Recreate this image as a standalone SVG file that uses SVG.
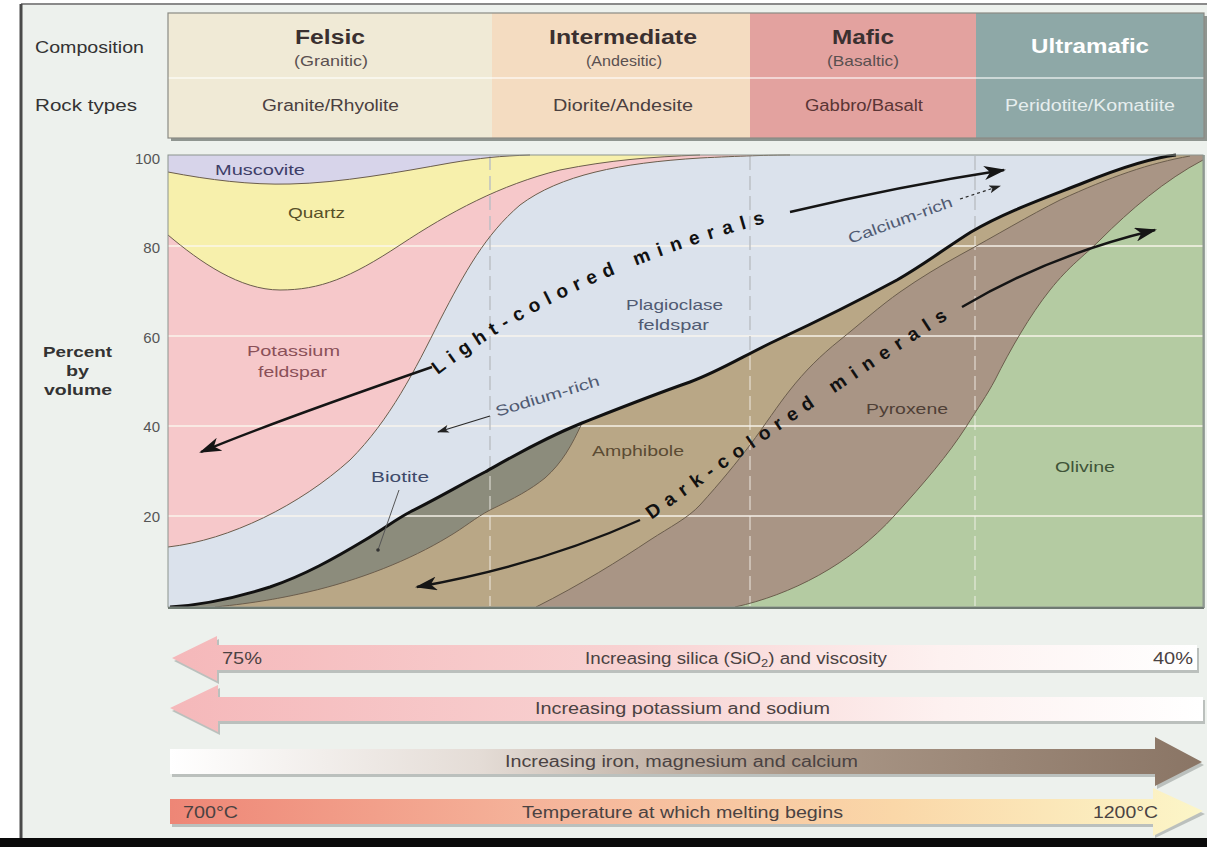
<svg xmlns="http://www.w3.org/2000/svg" width="1207" height="847" viewBox="0 0 1207 847">
<defs>
<style>
text{font-family:"Liberation Sans",Arial,sans-serif}
.hdr{font-size:20px;font-weight:bold;fill:#3a3030}
.sub{font-size:15px;fill:#5a5050}
.row{font-size:16px;fill:#4a4040}
.side{font-size:17px;fill:#333}
.ax{font-size:15px;fill:#555;text-anchor:end}
.lbl{font-size:15px}
.big{font-size:19px;font-weight:bold;fill:#111;letter-spacing:7.5px}
.bar{font-size:16px;fill:#4a4242}
.bnd{fill:none;stroke:#6b5d4c;stroke-width:1}
.arr{fill:none;stroke:#151515;stroke-width:2.4}
.sm{fill:none;stroke:#2a2a2a;stroke-width:1.2}
.grid{stroke:#fbf6ee;stroke-opacity:.7;stroke-width:2}
.vd{stroke:#f6f4ee;stroke-opacity:.55;stroke-width:1.6;stroke-dasharray:14 6}
.vg{stroke:#9ea4ae;stroke-opacity:.8;stroke-width:1.2;stroke-dasharray:14 6}
.shd{fill:#9aa09c;opacity:.6}
</style>
<marker id="ah" viewBox="0 0 22 14" refX="20" refY="7" markerWidth="22" markerHeight="14" markerUnits="userSpaceOnUse" orient="auto"><path d="M0,0 L22,7 L0,14 L6,7 Z" fill="#151515"/></marker>
<marker id="ahs" viewBox="0 0 12 8" refX="11" refY="4" markerWidth="12" markerHeight="8" markerUnits="userSpaceOnUse" orient="auto"><path d="M0,0 L12,4 L0,8 L3,4 Z" fill="#222"/></marker>
<linearGradient id="gPink" x1="0" y1="0" x2="1" y2="0"><stop offset="0" stop-color="#f5b8ba"/><stop offset="0.45" stop-color="#f8d2d2"/><stop offset="0.75" stop-color="#fdf1f0"/><stop offset="1" stop-color="#ffffff"/></linearGradient>
<linearGradient id="gIron" x1="0" y1="0" x2="1" y2="0"><stop offset="0" stop-color="#ffffff"/><stop offset="0.3" stop-color="#e4dcd6"/><stop offset="0.6" stop-color="#ab9888"/><stop offset="1" stop-color="#8a7565"/></linearGradient>
<linearGradient id="gTemp" x1="0" y1="0" x2="1" y2="0"><stop offset="0" stop-color="#ee8676"/><stop offset="0.35" stop-color="#f5b39a"/><stop offset="0.7" stop-color="#fad7a8"/><stop offset="1" stop-color="#fcf6c8"/></linearGradient>
<path id="lightPath" d="M438,375 Q565,275 785,218"/>
<path id="darkPath" d="M650,521 Q800,413 965,308"/>
<clipPath id="plagClip"><path d="M170,607 C205,605 235,598 270,587 C305,575 335,558 365,540 C385,528 395,520 410,512 C440,497 460,485 485,472 C510,458 540,440 582,423 C620,408 650,396 690,382 C720,371 745,355 777,340 C820,320 860,300 897,280 C925,264 950,245 971,232 C1005,212 1045,198 1083,183 C1120,168 1150,158 1176,155 L168,155 L168,607 Z"/></clipPath>
</defs>

<g id="frame">
<rect x="0" y="0" width="1207" height="847" fill="#ffffff"/>
<rect x="21" y="4" width="1186" height="834" fill="#edf1ed"/>
<line x1="21" y1="4" x2="1207" y2="4" stroke="#8a8a8a" stroke-width="2"/>
<line x1="21" y1="4" x2="21" y2="838" stroke="#4a4a4a" stroke-width="3"/>
<rect x="0" y="838" width="1207" height="9" fill="#0a0a0a"/>
</g>

<g id="header">
<rect x="171" y="16" width="1036" height="125" fill="#8f9590"/>
<rect x="168" y="13" width="324" height="125" fill="#f0eAd6"/>
<rect x="492" y="13" width="258" height="125" fill="#f4dcc1"/>
<rect x="750" y="13" width="226" height="125" fill="#e3a29f"/>
<rect x="976" y="13" width="228" height="125" fill="#8ea8a7"/>
<line x1="168" y1="78" x2="1204" y2="78" stroke="#ffffff" stroke-opacity=".55" stroke-width="2"/>
<rect x="168" y="13" width="1036" height="125" fill="none" stroke="#8a8a84" stroke-width="1.2"/>
<text class="side" x="35" y="53" textLength="109" lengthAdjust="spacingAndGlyphs">Composition</text>
<text class="side" x="35" y="111" textLength="102" lengthAdjust="spacingAndGlyphs">Rock types</text>
<text class="hdr" x="295" y="44" textLength="70" lengthAdjust="spacingAndGlyphs">Felsic</text>
<text class="sub" x="294" y="66" textLength="74" lengthAdjust="spacingAndGlyphs">(Granitic)</text>
<text class="hdr" x="549" y="44" textLength="148" lengthAdjust="spacingAndGlyphs">Intermediate</text>
<text class="sub" x="586" y="66" textLength="76" lengthAdjust="spacingAndGlyphs">(Andesitic)</text>
<text class="hdr" x="832" y="44" textLength="62" lengthAdjust="spacingAndGlyphs">Mafic</text>
<text class="sub" x="827" y="66" textLength="72" lengthAdjust="spacingAndGlyphs">(Basaltic)</text>
<text class="hdr" x="1031" y="53" textLength="118" lengthAdjust="spacingAndGlyphs" style="fill:#ffffff">Ultramafic</text>
<text class="row" x="262" y="111" textLength="137" lengthAdjust="spacingAndGlyphs">Granite/Rhyolite</text>
<text class="row" x="553" y="111" textLength="140" lengthAdjust="spacingAndGlyphs">Diorite/Andesite</text>
<text class="row" x="805" y="111" textLength="118" lengthAdjust="spacingAndGlyphs" style="fill:#5a3535">Gabbro/Basalt</text>
<text class="row" x="1005" y="111" textLength="170" lengthAdjust="spacingAndGlyphs" style="fill:#e6eeee">Peridotite/Komatiite</text>
</g>

<g id="axis">
<text class="ax" x="160" y="164">100</text>
<text class="ax" x="160" y="253">80</text>
<text class="ax" x="160" y="343">60</text>
<text class="ax" x="160" y="432">40</text>
<text class="ax" x="160" y="522">20</text>
<text x="43" y="357" font-size="15" font-weight="bold" fill="#333" textLength="69" lengthAdjust="spacingAndGlyphs">Percent</text>
<text x="66" y="376" font-size="15" font-weight="bold" fill="#333" textLength="23" lengthAdjust="spacingAndGlyphs">by</text>
<text x="44" y="395" font-size="15" font-weight="bold" fill="#333" textLength="68" lengthAdjust="spacingAndGlyphs">volume</text>
</g>

<g id="chart">
<rect x="168" y="155" width="1035" height="452" fill="#b4cba2"/>
<path id="pyroxene" d="M735,607 C790,595 850,565 895,515 C925,482 948,455 966,427 C978,408 987,395 995,380 C1010,350 1030,315 1050,290 C1070,265 1083,257 1100,240 C1130,210 1165,180 1203,160 L1203,155 L168,155 L168,607 Z" fill="#a99585"/>
<path id="amphibole" d="M536,607 C580,585 620,560 650,540 C670,527 688,518 700,505 C720,483 737,462 750,445 C765,425 778,405 790,390 C805,371 820,356 840,340 C860,324 880,306 900,292 C920,278 940,266 960,255 C995,236 1030,215 1060,200 C1110,177 1150,163 1190,156 L1190,155 L168,155 L168,607 Z" fill="#b9a786"/>
<path id="biotite" d="M215,607 C255,603 282,598 308,592 C360,580 410,560 448,537 C465,527 475,518 490,510 C515,498 530,490 545,478 C562,463 572,445 582,423 L582,155 L168,155 L168,607 Z" fill="#8c8c7c"/>
<path id="plagioclase" d="M170,607 C205,605 235,598 270,587 C305,575 335,558 365,540 C385,528 395,520 410,512 C440,497 460,485 485,472 C510,458 540,440 582,423 C620,408 650,396 690,382 C720,371 745,355 777,340 C820,320 860,300 897,280 C925,264 950,245 971,232 C1005,212 1045,198 1083,183 C1120,168 1150,158 1176,155 L168,155 L168,607 Z" fill="#dbe2ec"/>
<path id="kfeldspar" d="M168,547 C230,540 300,505 350,460 C390,420 415,370 440,320 C465,272 485,235 520,205 C560,175 620,163 700,158 C740,156 770,155 790,155 L168,155 Z" fill="#f6c8ca"/>
<path id="quartz" d="M168,235 C200,262 240,290 280,290 C320,290 350,278 400,245 C450,212 500,185 560,170 C610,160 650,157 700,155 L168,155 Z" fill="#f7f0ac"/>
<path id="muscovite" d="M168,172 C210,180 250,185 290,184 C340,183 400,172 450,163 C480,158 500,156 530,155 L168,155 Z" fill="#d7d4ea"/>

<line class="grid" x1="168" y1="246" x2="1203" y2="246"/>
<line class="grid" x1="168" y1="336" x2="1203" y2="336"/>
<line class="grid" x1="168" y1="426" x2="1203" y2="426"/>
<line class="grid" x1="168" y1="516" x2="1203" y2="516"/>
<line class="vd" x1="490" y1="156" x2="490" y2="606"/>
<line class="vd" x1="750" y1="156" x2="750" y2="606"/>
<line class="vd" x1="975" y1="156" x2="975" y2="606"/>
<g clip-path="url(#plagClip)">
<line class="vg" x1="490" y1="156" x2="490" y2="606"/>
<line class="vg" x1="750" y1="156" x2="750" y2="606"/>
<line class="vg" x1="975" y1="156" x2="975" y2="606"/>
</g>

<path class="bnd" d="M735,607 C790,595 850,565 895,515 C925,482 948,455 966,427 C978,408 987,395 995,380 C1010,350 1030,315 1050,290 C1070,265 1083,257 1100,240 C1130,210 1165,180 1203,160"/>
<path class="bnd" d="M536,607 C580,585 620,560 650,540 C670,527 688,518 700,505 C720,483 737,462 750,445 C765,425 778,405 790,390 C805,371 820,356 840,340 C860,324 880,306 900,292 C920,278 940,266 960,255 C995,236 1030,215 1060,200 C1110,177 1150,163 1190,156"/>
<path class="bnd" d="M215,607 C255,603 282,598 308,592 C360,580 410,560 448,537 C465,527 475,518 490,510 C515,498 530,490 545,478 C562,463 572,445 582,423"/>
<path class="bnd" d="M168,547 C230,540 300,505 350,460 C390,420 415,370 440,320 C465,272 485,235 520,205 C560,175 620,163 700,158 C740,156 770,155 790,155"/>
<path class="bnd" d="M168,235 C200,262 240,290 280,290 C320,290 350,278 400,245 C450,212 500,185 560,170 C610,160 650,157 700,155"/>
<path class="bnd" d="M168,172 C210,180 250,185 290,184 C340,183 400,172 450,163 C480,158 500,156 530,155"/>
<path d="M170,607 C205,605 235,598 270,587 C305,575 335,558 365,540 C385,528 395,520 410,512 C440,497 460,485 485,472 C510,458 540,440 582,423 C620,408 650,396 690,382 C720,371 745,355 777,340 C820,320 860,300 897,280 C925,264 950,245 971,232 C1005,212 1045,198 1083,183 C1120,168 1150,158 1176,155" fill="none" stroke="#111" stroke-width="3"/>
<rect x="168" y="155" width="1035" height="452" fill="none" stroke="#8c948e" stroke-width="1"/>
<line x1="168" y1="608" x2="1204" y2="608" stroke="#6f7a72" stroke-width="2"/>
<line x1="1204" y1="155" x2="1204" y2="608" stroke="#7f8a82" stroke-width="1.5"/>
</g>

<g id="labels">
<text class="lbl" x="215" y="175" textLength="90" lengthAdjust="spacingAndGlyphs" fill="#3e3e68">Muscovite</text>
<text class="lbl" x="288" y="218" textLength="57" lengthAdjust="spacingAndGlyphs" fill="#575028">Quartz</text>
<text class="lbl" x="247" y="356" textLength="93" lengthAdjust="spacingAndGlyphs" fill="#8a5058">Potassium</text>
<text class="lbl" x="258" y="377" textLength="69" lengthAdjust="spacingAndGlyphs" fill="#8a5058">feldspar</text>
<text class="lbl" x="626" y="310" textLength="97" lengthAdjust="spacingAndGlyphs" fill="#505a72">Plagioclase</text>
<text class="lbl" x="638" y="330" textLength="71" lengthAdjust="spacingAndGlyphs" fill="#505a72">feldspar</text>
<text class="lbl" x="371" y="482" textLength="58" lengthAdjust="spacingAndGlyphs" fill="#3e4a6a">Biotite</text>
<text class="lbl" x="592" y="456" textLength="92" lengthAdjust="spacingAndGlyphs" fill="#5b4b33">Amphibole</text>
<text class="lbl" x="866" y="414" textLength="82" lengthAdjust="spacingAndGlyphs" fill="#4f3f36">Pyroxene</text>
<text class="lbl" x="1055" y="472" textLength="60" lengthAdjust="spacingAndGlyphs" fill="#3f5438">Olivine</text>
<text class="lbl" transform="translate(549,401) rotate(-17)" x="-54" y="0" textLength="108" lengthAdjust="spacingAndGlyphs" fill="#505a72">Sodium-rich</text>
<text class="lbl" transform="translate(902,225) rotate(-20)" x="-55" y="0" textLength="110" lengthAdjust="spacingAndGlyphs" fill="#505a72">Calcium-rich</text>
<text class="big" style="letter-spacing:7px"><textPath href="#lightPath">Light-colored</textPath></text>
<text class="big" style="letter-spacing:8.3px"><textPath href="#lightPath" startOffset="227">minerals</textPath></text>
<text class="big"><textPath href="#darkPath" startOffset="2">Dark-</textPath></text>
<text class="big"><textPath href="#darkPath" startOffset="88">colored</textPath></text>
<text class="big" style="letter-spacing:8.3px"><textPath href="#darkPath" startOffset="224">minerals</textPath></text>
</g>

<g id="connectors">
<path class="arr" d="M790,212 Q900,186 1004,170" marker-end="url(#ah)"/>
<path class="arr" d="M432,367 Q265,425 201,452" marker-end="url(#ah)"/>
<path class="arr" d="M640,520 Q540,565 417,587" marker-end="url(#ah)"/>
<path class="arr" d="M962,307 Q1050,255 1155,230" marker-end="url(#ah)"/>
<path class="sm" d="M490,416 L438,432" marker-end="url(#ahs)"/>
<path class="sm" d="M960,199 L1000,186" stroke-dasharray="3 3" marker-end="url(#ahs)"/>
<path d="M399,490 L378,550" fill="none" stroke="#555" stroke-width="1"/>
<circle cx="378" cy="550" r="1.8" fill="#333"/>
</g>

<g id="scales">
<path class="shd" d="M174,661 L219,639 L219,648 L1199,648 L1199,673 L219,673 L219,684 Z"/>
<path d="M172,658 L217,636 L217,645 L1197,645 L1197,670 L217,670 L217,681 Z" fill="url(#gPink)"/>
<text class="bar" x="222" y="664" textLength="40" lengthAdjust="spacingAndGlyphs">75%</text>
<text class="bar" x="585" y="664" textLength="302" lengthAdjust="spacingAndGlyphs">Increasing silica (SiO<tspan font-size="11" dy="3">2</tspan><tspan dy="-3">) and viscosity</tspan></text>
<text class="bar" x="1153" y="664" textLength="40" lengthAdjust="spacingAndGlyphs">40%</text>

<path class="shd" d="M172,711 L220,688 L220,700 L1205,700 L1205,724 L220,724 L220,735 Z"/>
<path d="M170,708 L218,685 L218,697 L1203,697 L1203,721 L218,721 L218,732 Z" fill="url(#gPink)"/>
<text class="bar" x="535" y="714" textLength="295" lengthAdjust="spacingAndGlyphs">Increasing potassium and sodium</text>

<path class="shd" d="M172,752 L1157,752 L1157,740 L1204,765 L1157,789 L1157,777 L172,777 Z"/>
<path d="M170,749 L1155,749 L1155,737 L1202,762 L1155,786 L1155,774 L170,774 Z" fill="url(#gIron)"/>
<text class="bar" x="505" y="767" textLength="353" lengthAdjust="spacingAndGlyphs">Increasing iron, magnesium and calcium</text>

<path class="shd" d="M172,802 L1155,802 L1155,791 L1205,814 L1155,838 L1155,827 L172,827 Z"/>
<path d="M170,799 L1153,799 L1153,788 L1203,811 L1153,836 L1153,824 L170,824 Z" fill="url(#gTemp)"/>
<text class="bar" x="183" y="818" textLength="55" lengthAdjust="spacingAndGlyphs">700°C</text>
<text class="bar" x="522" y="818" textLength="321" lengthAdjust="spacingAndGlyphs">Temperature at which melting begins</text>
<text class="bar" x="1093" y="818" textLength="65" lengthAdjust="spacingAndGlyphs">1200°C</text>
</g>
</svg>
